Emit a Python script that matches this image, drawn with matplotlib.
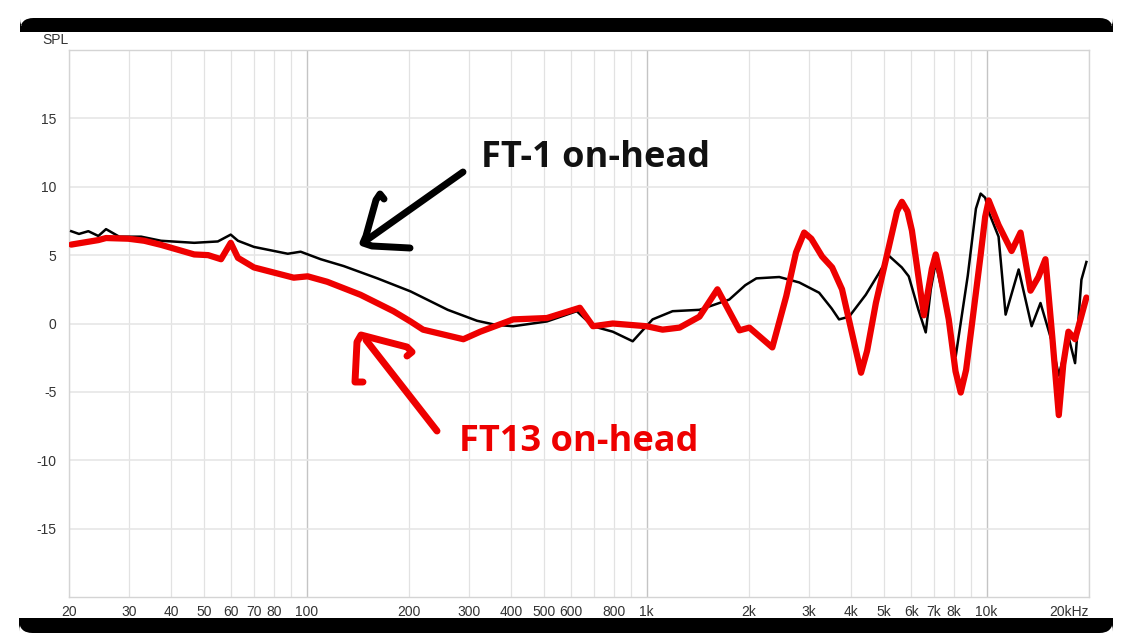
import matplotlib.pyplot as plt
from matplotlib.patches import FancyBboxPatch, Rectangle
from matplotlib.lines import Line2D

# FT-1 on-head (black) frequency response
ft1_freq = [20.3, 21.4, 22.8, 24.4, 25.7, 28.1, 32.6, 37.3, 46.7, 54.8, 59.8, 62.8,
            70, 88, 96, 110, 128.5, 161.5, 202, 226, 260, 317, 360, 405, 509, 623, 695,
            795, 910, 1041, 1192, 1430, 1750, 1950, 2102, 2455, 2811, 3216, 3500,
            3680, 3940, 4410, 4800, 5160, 5630, 5900, 6300, 6620, 6850, 7080, 7600,
            8110, 8800, 9300, 9600, 9900, 10200, 10840, 11370, 12420, 13560, 14400,
            15500, 16300, 17400, 18200, 19000, 19650]
ft1_spl = [6.75, 6.55, 6.75, 6.4, 6.9, 6.35, 6.35, 6.05, 5.9, 6.0, 6.5, 6.05,
           5.6, 5.1, 5.25, 4.7, 4.2, 3.3, 2.35, 1.75, 1.0, 0.2, -0.1, -0.2, 0.15, 0.9, -0.2,
           -0.6, -1.3, 0.3, 0.9, 1.0, 1.75, 2.8, 3.3, 3.4, 3.0, 2.25, 1.1,
           0.3, 0.5, 2.1, 3.6, 4.95, 4.1, 3.45, 1.0, -0.65, 2.5, 4.45, 1.0,
           -2.4, 3.5, 8.4, 9.5, 9.2, 8.0, 6.35, 0.65, 3.95, -0.2, 1.5,
           -1.2, -3.8, -0.95, -2.9, 3.2, 4.5]

# FT13 on-head (red)
ft13_freq = [20.3, 24.4, 25.7, 29.9, 33.3, 37.3, 46.7, 51.3, 56, 59.8, 62.8, 70,
             91.6, 100.7, 115, 144, 180, 202, 220, 289, 324, 405, 509, 636, 695,
             795, 1000, 1114, 1250, 1430, 1615, 1875, 2005, 2342, 2574, 2750, 2906,
             3050, 3281, 3512, 3755, 4000, 4271, 4450, 4723, 5200, 5450, 5633, 5850,
             6028, 6537, 6900, 7085, 7300, 7736, 8100, 8390, 8700, 9037, 9600, 9900,
             10140, 10840, 11840, 12580, 13460, 14200, 14890, 15600, 16300, 16800,
             17400, 18200, 19650]
ft13_spl = [5.77, 6.1, 6.25, 6.2, 6.05, 5.75, 5.05, 5.0, 4.7, 5.9, 4.8, 4.1,
            3.35, 3.45, 3.05, 2.1, 0.9, 0.15, -0.45, -1.15, -0.6, 0.3, 0.4, 1.15, -0.2,
            0.0, -0.2, -0.45, -0.3, 0.5, 2.5, -0.5, -0.3, -1.75, 2.0, 5.2, 6.65,
            6.2, 4.9, 4.1, 2.5, -0.5, -3.6, -2.0, 1.5, 6.0, 8.2, 8.9, 8.2,
            6.8, 0.6, 4.0, 5.05, 3.6, 0.3, -3.5, -5.05, -3.4, -0.2, 5.0, 7.8,
            9.0, 7.2, 5.3, 6.65, 2.4, 3.4, 4.7, -1.0, -6.7, -3.0,
            -0.6, -1.15, 1.9]

xticks = [20, 30, 40, 50, 60, 70, 80, 100, 200, 300, 400, 500, 600, 800,
          1000, 2000, 3000, 4000, 5000, 6000, 7000, 8000, 10000, 20000]
xlabels = ['20', '30', '40', '50', '60', '70', '80', '100', '200', '300', '400',
           '500', '600', '800', '1k', '2k', '3k', '4k', '5k', '6k', '7k', '8k',
           '10k', '20kHz']
grid_freqs = [20, 30, 40, 50, 60, 70, 80, 90, 200, 300, 400, 500, 600, 700, 800,
              900, 2000, 3000, 4000, 5000, 6000, 7000, 8000, 9000, 20000]
major_freqs = [100, 1000, 10000]
yticks = [-15, -10, -5, 0, 5, 10, 15]

W, H = 1123, 638
plt.rcParams['font.family'] = ['Liberation Sans', 'DejaVu Sans']


def px(x, y):
    return x / W, 1 - y / H


fig = plt.figure(figsize=(W / 100, H / 100), dpi=100)
fig.patch.set_facecolor('white')

ax = fig.add_axes([69 / W, 41 / H, 1020 / W, 547 / H])
ax.set_xscale('log')
ax.set_xlim(20, 20000)
ax.set_ylim(-20, 20)

for f in grid_freqs:
    ax.axvline(f, color='#e2e2e2', lw=0.9, zorder=0)
for f in major_freqs:
    ax.axvline(f, color='#c4c4c4', lw=1.0, zorder=0)
for v in yticks:
    ax.axhline(v, color='#e6e6e6', lw=1.2, zorder=0)

ax.plot(ft1_freq, ft1_spl, color='black', lw=1.8, solid_joinstyle='round', zorder=3)
ax.plot(ft13_freq, ft13_spl, color='#ee0000', lw=4.5, solid_joinstyle='round',
        solid_capstyle='round', zorder=4)

ax.set_xticks(xticks)
ax.set_xticklabels(xlabels)
ax.xaxis.set_minor_locator(plt.NullLocator())
ax.set_yticks(yticks)
ax.set_yticklabels([str(v) for v in yticks])
ax.tick_params(length=0, labelsize=10, colors='#333333')
ax.tick_params(axis='x', pad=6)
ax.tick_params(axis='y', pad=9)
ax.get_xticklabels()[-1].set_horizontalalignment('right')
for s in ax.spines.values():
    s.set_color('#d4d4d4')
    s.set_linewidth(1.0)

fig.text(*px(42, 40), 'SPL', fontsize=10, color='#333333', va='center', ha='left')

# annotations
fig.text(*px(481, 167), 'FT-1 on-head', fontsize=26, fontweight='bold',
         family=['Open Sans', 'DejaVu Sans'], color='#111111', va='baseline', ha='left')
fig.text(*px(459, 451), 'FT13 on-head', fontsize=26, fontweight='bold',
         family=['Open Sans', 'DejaVu Sans'], color='#ee0000', va='baseline', ha='left')


def stroke(points, color, lw):
    xs = [px(x, y)[0] for x, y in points]
    ys = [px(x, y)[1] for x, y in points]
    fig.add_artist(Line2D(xs, ys, color=color, lw=lw, solid_capstyle='round',
                          solid_joinstyle='round', zorder=5))


stroke([(463, 172), (364, 242)], 'black', 5)
stroke([(384, 199), (380, 194), (376, 200), (366, 236), (363, 243), (372, 246), (410, 248)], 'black', 5)
stroke([(437, 431), (366, 340)], '#ee0000', 5)
stroke([(407, 356), (412, 352), (407, 347), (380, 340), (361, 335), (357, 342), (355, 382), (363, 382)], '#ee0000', 5)

# black bars of the frame
top_bar = FancyBboxPatch(px(20, 32), 1093 / W, 14 / H,
                         boxstyle='round,pad=0,rounding_size=0.012',
                         transform=fig.transFigure, fc='black', ec='none',
                         mutation_aspect=W / H)
fig.add_artist(top_bar)
fig.add_artist(Rectangle(px(20, 32), 1093 / W, 6 / H, transform=fig.transFigure,
                         fc='black', ec='none'))
bot_bar = FancyBboxPatch(px(19, 633), 1094 / W, 15 / H,
                         boxstyle='round,pad=0,rounding_size=0.012',
                         transform=fig.transFigure, fc='black', ec='none',
                         mutation_aspect=W / H)
fig.add_artist(bot_bar)
fig.add_artist(Rectangle(px(19, 625), 1094 / W, 7 / H, transform=fig.transFigure,
                         fc='black', ec='none'))

fig.savefig('out.png', dpi=100)
